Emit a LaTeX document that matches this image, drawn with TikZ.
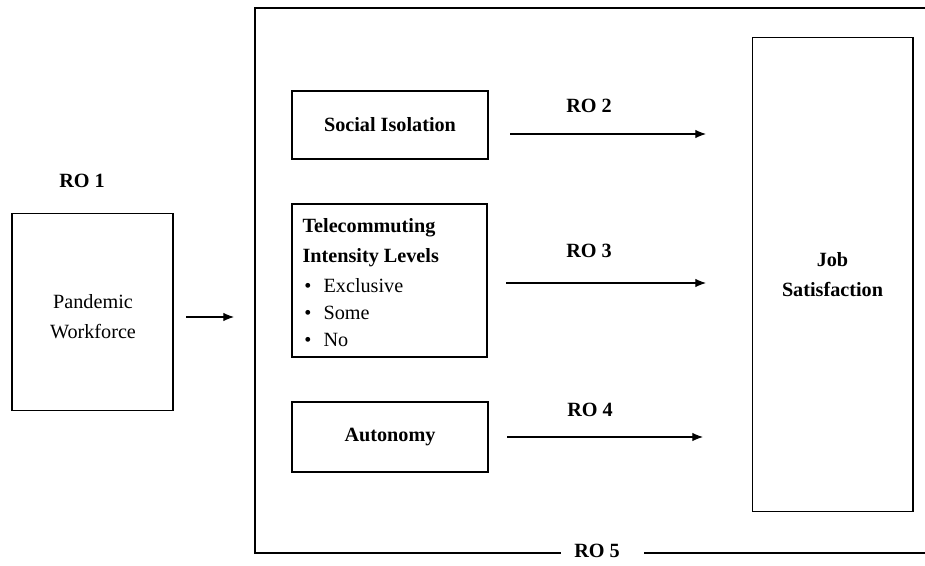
\documentclass[tikz,border=0pt]{standalone}
\usepackage{fontspec}
\setmainfont{Liberation Serif}
\usetikzlibrary{arrows.meta}

\tikzset{
    box/.style={draw, inner sep=0pt, align=center, font=\fontsize{11.5}{17}\selectfont},
    label/.style={font=\fontsize{11.5}{17}\selectfont\bfseries},
}

\begin{document}
\begin{tikzpicture}[>={Latex[length=6pt,width=4.8pt]}, semithick, x=0.02cm, y=-0.02cm]
            \useasboundingbox (0, 0) rectangle (925, 565);

            % left part
            \node[label] (ro1) at (82, 181) {RO 1};
            \node[box, minimum width=3.22cm, minimum height=3.94cm] (pandemic) at (92.5, 312) {};
            \node[box, draw=none] (pandemictext) at (93, 317) {Pandemic\\Workforce};
            \coordinate (in1) at (186, 317);
            \coordinate (in2) at (234, 317);
            \draw[->] (in1) -- (in2);

            % frame round the factors
            \node[label, inner sep=0pt] (ro5) at (597, 551) {RO 5};
            \coordinate (ftr) at (925, 8);
            \coordinate (ftl) at (255, 8);
            \coordinate (fbl) at (255, 553);
            \coordinate (fbr) at (925, 553);
            \coordinate (gap1) at (561, 553);
            \coordinate (gap2) at (644, 553);
            \draw (ftr) -- (ftl) -- (fbl) -- (gap1);
            \draw (gap2) -- (fbr);

            % factors
            \node[box, font=\fontsize{11.5}{17}\selectfont\bfseries, minimum width=3.92cm, minimum height=1.36cm] (social) at (390, 125) {Social Isolation};
            \node[box, minimum width=3.9cm, minimum height=3.06cm] (tele) at (389.5, 280.5) {};
            \node[box, draw=none, anchor=north west, align=left] (teletext) at (302, 218) {\textbf{Telecommuting}\\
                \textbf{Intensity Levels}\\
                \hspace{1pt}\makebox[11pt][l]{\textbullet}Exclusive\\[-1.7pt]
                \hspace{1pt}\makebox[11pt][l]{\textbullet}Some\\[-1.7pt]
                \hspace{1pt}\makebox[11pt][l]{\textbullet}No};
            \node[box, font=\fontsize{11.5}{17}\selectfont\bfseries, minimum width=3.92cm, minimum height=1.4cm] (autonomy) at (390, 437) {Autonomy};

            \node[box, font=\fontsize{11.5}{17}\selectfont\bfseries, minimum width=3.22cm, minimum height=9.5cm] (job) at (832.5, 274.5) {Job\\Satisfaction};

            % arrows towards job satisfaction
            \coordinate (a2) at (510, 134);
            \coordinate (b2) at (706, 134);
            \coordinate (a3) at (506, 283);
            \coordinate (b3) at (706, 283);
            \coordinate (a4) at (507, 437);
            \coordinate (b4) at (703, 437);
            \draw[->] (a2) -- (b2);
            \draw[->] (a3) -- (b3);
            \draw[->] (a4) -- (b4);
            \node[label] (ro2) at (589, 106) {RO 2};
            \node[label] (ro3) at (589, 251) {RO 3};
            \node[label] (ro4) at (590, 410) {RO 4};
        \end{tikzpicture}
\end{document}
